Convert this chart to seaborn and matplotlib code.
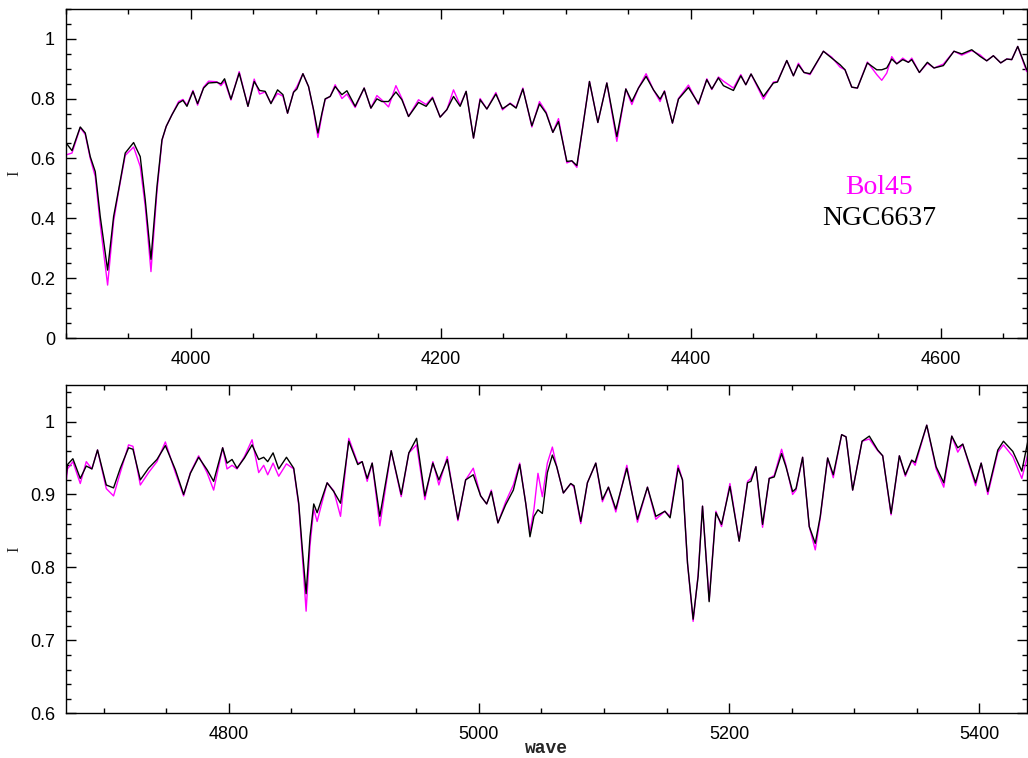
import pandas as pd
import seaborn as sns
import matplotlib.pyplot as plt
from matplotlib.ticker import MultipleLocator, FuncFormatter

# upper panel (3900 - 4670 A)
wave_top = [3900.2, 3904.8, 3911.4, 3915.4, 3919.4, 3923.4, 3927.4, 3933.3, 3938.1, 3942.1,
            3947.4, 3954.1, 3959.4, 3963.4, 3968.0, 3972.8, 3976.8, 3980.2, 3984.8, 3990.1,
            3993.6, 3996.8, 4001.6, 4005.3, 4010.1, 4014.1, 4020.8, 4024.0, 4026.9, 4032.0,
            4038.6, 4045.6, 4050.6, 4054.9, 4059.4, 4064.0, 4069.3, 4073.6, 4077.3, 4082.1,
            4084.8, 4089.6, 4094.1, 4098.1, 4101.6, 4104.8, 4107.4, 4111.4, 4115.4, 4120.8,
            4124.8, 4131.4, 4138.6, 4144.0, 4148.8, 4152.8, 4158.1, 4164.0, 4168.8, 4174.1,
            4182.1, 4188.2, 4193.3, 4199.4, 4204.8, 4210.1, 4215.4, 4220.2, 4226.1, 4231.4,
            4236.8, 4244.0, 4249.3, 4255.4, 4260.2, 4265.6, 4272.8, 4278.9, 4284.2, 4289.6,
            4294.1, 4300.8, 4304.8, 4308.8, 4312.8, 4318.9, 4325.6, 4332.8, 4340.8, 4348.0,
            4352.8, 4358.1, 4364.2, 4370.1, 4375.4, 4378.9, 4385.3, 4390.1, 4398.1, 4406.1,
            4412.8, 4416.8, 4422.1, 4426.1, 4434.1, 4440.0, 4444.0, 4448.2, 4458.1, 4466.1,
            4469.3, 4476.8, 4482.1, 4486.1, 4490.6, 4495.4, 4506.1, 4512.8, 4519.4, 4523.4,
            4528.8, 4533.3, 4541.3, 4548.8, 4552.8, 4556.8, 4560.8, 4564.8, 4569.6, 4574.1,
            4576.8, 4582.9, 4589.3, 4594.6, 4602.1, 4610.6, 4616.8, 4624.8, 4631.4, 4636.8,
            4642.1, 4648.0, 4652.8, 4656.8, 4661.6, 4668.8]
ngc_top = [0.651, 0.626, 0.705, 0.685, 0.606, 0.556, 0.406, 0.227, 0.406, 0.495,
           0.618, 0.653, 0.606, 0.462, 0.263, 0.506, 0.662, 0.707, 0.746, 0.785,
           0.794, 0.774, 0.824, 0.783, 0.835, 0.852, 0.854, 0.849, 0.866, 0.798,
           0.885, 0.774, 0.857, 0.827, 0.824, 0.783, 0.829, 0.813, 0.751, 0.821,
           0.832, 0.883, 0.840, 0.763, 0.685, 0.751, 0.799, 0.807, 0.840, 0.813,
           0.826, 0.774, 0.835, 0.768, 0.799, 0.790, 0.790, 0.822, 0.796, 0.740,
           0.787, 0.774, 0.802, 0.738, 0.763, 0.807, 0.774, 0.824, 0.668, 0.796,
           0.765, 0.815, 0.766, 0.783, 0.768, 0.832, 0.709, 0.782, 0.751, 0.687,
           0.723, 0.590, 0.592, 0.576, 0.685, 0.857, 0.720, 0.852, 0.673, 0.832,
           0.790, 0.835, 0.874, 0.829, 0.798, 0.824, 0.718, 0.798, 0.837, 0.783,
           0.863, 0.832, 0.869, 0.843, 0.827, 0.876, 0.846, 0.882, 0.807, 0.852,
           0.855, 0.927, 0.876, 0.913, 0.887, 0.883, 0.958, 0.935, 0.913, 0.896,
           0.838, 0.835, 0.919, 0.896, 0.896, 0.902, 0.932, 0.916, 0.930, 0.921,
           0.930, 0.887, 0.921, 0.902, 0.910, 0.958, 0.949, 0.963, 0.941, 0.926,
           0.943, 0.919, 0.932, 0.930, 0.974, 0.896]
bol_top = [0.612, 0.618, 0.703, 0.680, 0.600, 0.540, 0.380, 0.177, 0.390, 0.490,
           0.610, 0.638, 0.573, 0.440, 0.222, 0.490, 0.660, 0.707, 0.746, 0.790,
           0.797, 0.778, 0.827, 0.778, 0.838, 0.858, 0.856, 0.843, 0.858, 0.795,
           0.890, 0.774, 0.865, 0.815, 0.822, 0.785, 0.817, 0.808, 0.751, 0.822,
           0.840, 0.883, 0.840, 0.760, 0.670, 0.745, 0.797, 0.807, 0.846, 0.800,
           0.815, 0.770, 0.835, 0.768, 0.810, 0.795, 0.772, 0.843, 0.800, 0.740,
           0.796, 0.780, 0.805, 0.738, 0.763, 0.829, 0.778, 0.824, 0.668, 0.800,
           0.765, 0.820, 0.762, 0.785, 0.770, 0.835, 0.705, 0.790, 0.755, 0.687,
           0.733, 0.585, 0.592, 0.570, 0.685, 0.857, 0.720, 0.852, 0.657, 0.832,
           0.780, 0.835, 0.883, 0.829, 0.790, 0.826, 0.718, 0.800, 0.845, 0.780,
           0.866, 0.830, 0.872, 0.858, 0.835, 0.880, 0.846, 0.882, 0.798, 0.855,
           0.857, 0.927, 0.876, 0.918, 0.887, 0.880, 0.958, 0.938, 0.905, 0.896,
           0.838, 0.835, 0.922, 0.880, 0.861, 0.885, 0.940, 0.916, 0.935, 0.921,
           0.935, 0.887, 0.918, 0.902, 0.915, 0.958, 0.945, 0.960, 0.946, 0.926,
           0.943, 0.919, 0.932, 0.930, 0.974, 0.890]

# lower panel (4670 - 5440 A)
wave_bot = [4669.4, 4671.2, 4675.5, 4681.4, 4686.2, 4690.7, 4695.2, 4702.2, 4708.0, 4713.4,
            4720.0, 4723.5, 4729.4, 4736.0, 4742.7, 4749.4, 4757.4, 4764.0, 4769.4, 4776.0,
            4782.7, 4788.0, 4795.2, 4798.7, 4802.7, 4806.7, 4812.6, 4818.7, 4824.0, 4828.0,
            4831.2, 4835.5, 4840.0, 4846.2, 4852.0, 4856.0, 4858.7, 4861.9, 4865.0, 4868.0,
            4870.7, 4878.7, 4884.0, 4889.4, 4896.0, 4903.2, 4906.7, 4910.7, 4914.7, 4920.8,
            4929.9, 4937.9, 4944.0, 4950.2, 4956.8, 4963.2, 4968.0, 4974.7, 4983.2, 4989.4,
            4995.5, 5001.4, 5006.2, 5009.9, 5015.2, 5021.4, 5027.5, 5032.6, 5037.4, 5040.8,
            5044.0, 5047.2, 5050.7, 5054.7, 5058.7, 5062.2, 5067.5, 5073.4, 5076.0, 5081.4,
            5086.7, 5093.4, 5098.7, 5103.5, 5109.4, 5118.2, 5126.7, 5134.7, 5141.4, 5148.6,
            5152.8, 5159.2, 5162.7, 5166.7, 5171.2, 5175.2, 5178.7, 5184.0, 5189.4, 5193.9,
            5200.6, 5208.0, 5214.7, 5217.4, 5221.4, 5226.7, 5232.0, 5236.0, 5241.9, 5245.4,
            5250.7, 5253.4, 5258.7, 5264.0, 5268.8, 5272.8, 5278.7, 5283.2, 5289.9, 5293.4,
            5298.7, 5306.2, 5312.0, 5318.7, 5322.7, 5329.4, 5336.0, 5340.8, 5345.9, 5348.6,
            5357.9, 5365.4, 5371.5, 5377.9, 5382.7, 5386.7, 5396.9, 5401.4, 5406.7, 5414.7,
            5419.2, 5426.7, 5433.9, 5438.7]
ngc_bot = [0.913, 0.941, 0.949, 0.922, 0.939, 0.935, 0.961, 0.913, 0.909, 0.936,
           0.964, 0.962, 0.920, 0.936, 0.948, 0.967, 0.934, 0.900, 0.929, 0.951,
           0.934, 0.918, 0.964, 0.943, 0.948, 0.936, 0.950, 0.968, 0.948, 0.951,
           0.945, 0.957, 0.935, 0.951, 0.936, 0.888, 0.829, 0.764, 0.842, 0.887,
           0.875, 0.916, 0.904, 0.888, 0.973, 0.941, 0.945, 0.922, 0.943, 0.870,
           0.960, 0.900, 0.957, 0.977, 0.898, 0.943, 0.920, 0.948, 0.866, 0.920,
           0.927, 0.898, 0.887, 0.904, 0.861, 0.886, 0.906, 0.941, 0.888, 0.842,
           0.870, 0.879, 0.874, 0.930, 0.954, 0.938, 0.902, 0.915, 0.912, 0.863,
           0.916, 0.943, 0.893, 0.910, 0.880, 0.936, 0.866, 0.910, 0.870, 0.877,
           0.868, 0.936, 0.920, 0.806, 0.729, 0.788, 0.884, 0.753, 0.875, 0.859,
           0.911, 0.836, 0.916, 0.918, 0.938, 0.859, 0.922, 0.924, 0.956, 0.938,
           0.904, 0.908, 0.951, 0.856, 0.833, 0.870, 0.950, 0.927, 0.982, 0.979,
           0.906, 0.973, 0.980, 0.961, 0.953, 0.874, 0.953, 0.927, 0.947, 0.944,
           0.995, 0.938, 0.916, 0.980, 0.964, 0.969, 0.916, 0.943, 0.904, 0.961,
           0.973, 0.959, 0.932, 0.973]
bol_bot = [0.905, 0.935, 0.945, 0.915, 0.945, 0.935, 0.961, 0.908, 0.898, 0.930,
           0.968, 0.966, 0.913, 0.930, 0.945, 0.972, 0.930, 0.898, 0.930, 0.953,
           0.930, 0.906, 0.964, 0.935, 0.940, 0.935, 0.952, 0.975, 0.930, 0.940,
           0.927, 0.943, 0.925, 0.942, 0.935, 0.885, 0.820, 0.740, 0.830, 0.880,
           0.863, 0.916, 0.905, 0.870, 0.977, 0.943, 0.945, 0.918, 0.943, 0.857,
           0.960, 0.897, 0.957, 0.968, 0.893, 0.945, 0.913, 0.952, 0.864, 0.920,
           0.936, 0.898, 0.887, 0.906, 0.861, 0.890, 0.913, 0.943, 0.888, 0.848,
           0.880, 0.929, 0.897, 0.943, 0.965, 0.938, 0.902, 0.915, 0.910, 0.860,
           0.916, 0.943, 0.890, 0.910, 0.876, 0.940, 0.862, 0.910, 0.866, 0.877,
           0.870, 0.940, 0.920, 0.806, 0.726, 0.790, 0.884, 0.755, 0.877, 0.856,
           0.915, 0.836, 0.918, 0.922, 0.938, 0.855, 0.922, 0.926, 0.962, 0.940,
           0.900, 0.906, 0.951, 0.856, 0.824, 0.868, 0.950, 0.923, 0.982, 0.979,
           0.906, 0.973, 0.976, 0.960, 0.953, 0.872, 0.953, 0.925, 0.947, 0.940,
           0.995, 0.935, 0.910, 0.980, 0.958, 0.969, 0.912, 0.943, 0.900, 0.958,
           0.968, 0.952, 0.922, 0.955]

stars = ["Bol45", "NGC6637"]
colors = {"Bol45": "magenta", "NGC6637": "black"}


def make_df(wave, bol, ngc):
    return pd.concat([
        pd.DataFrame({"wave": wave, "I": bol, "star": "Bol45"}),
        pd.DataFrame({"wave": wave, "I": ngc, "star": "NGC6637"}),
    ])


sns.set_style("ticks")
plt.rcParams["font.family"] = ["Liberation Sans", "DejaVu Sans"]

fig = plt.figure(figsize=(10.28, 7.58), dpi=100)
ax1 = fig.add_axes([0.0642, 0.554, 0.9348, 0.4345])
ax2 = fig.add_axes([0.0642, 0.059, 0.9348, 0.433])

panels = [
    (ax1, make_df(wave_top, bol_top, ngc_top), (3900, 4669), (0, 1.1), 0.2, 0.05),
    (ax2, make_df(wave_bot, bol_bot, ngc_bot), (4670, 5438), (0.6, 1.05), 0.1, 0.02),
]
for ax, df, xl, yl, ymaj, ymin in panels:
    sns.lineplot(data=df, x="wave", y="I", hue="star", hue_order=stars,
                 palette=colors, estimator=None, sort=False, legend=False,
                 linewidth=1.0, ax=ax)
    ax.set_xlim(*xl)
    ax.set_ylim(*yl)
    ax.xaxis.set_major_locator(MultipleLocator(200))
    ax.xaxis.set_minor_locator(MultipleLocator(50))
    ax.yaxis.set_major_locator(MultipleLocator(ymaj))
    ax.yaxis.set_minor_locator(MultipleLocator(ymin))
    ax.yaxis.set_major_formatter(FuncFormatter(lambda v, p: "%g" % round(v, 3)))
    ax.tick_params(which="both", direction="in", top=True, right=True,
                   width=1, labelsize=13, colors="black")
    ax.tick_params(which="major", length=7)
    ax.tick_params(axis="x", which="major", pad=9)
    ax.tick_params(axis="y", which="major", pad=8)
    ax.tick_params(which="minor", length=3.5)
    for s in ax.spines.values():
        s.set_linewidth(1)
        s.set_color("black")
    ax.set_xlabel("")
    ax.set_ylabel("I", family="Liberation Serif", fontsize=12, rotation=90)
    ax.yaxis.set_label_coords(-0.054, 0.5)
    ax.yaxis.label.set_va("center")

ax2.set_xlabel("wave", family="Liberation Mono", fontweight="bold", fontsize=13)
ax2.xaxis.set_label_coords(0.5, -0.106)
ax2.xaxis.label.set_va("center")

ax1.text(4551, 0.502, "Bol45", color="magenta", family="Liberation Serif",
         fontsize=20, ha="center", va="center")
ax1.text(4551, 0.401, "NGC6637", color="black", family="Liberation Serif",
         fontsize=20, ha="center", va="center")

plt.savefig("out.png", dpi=100)
